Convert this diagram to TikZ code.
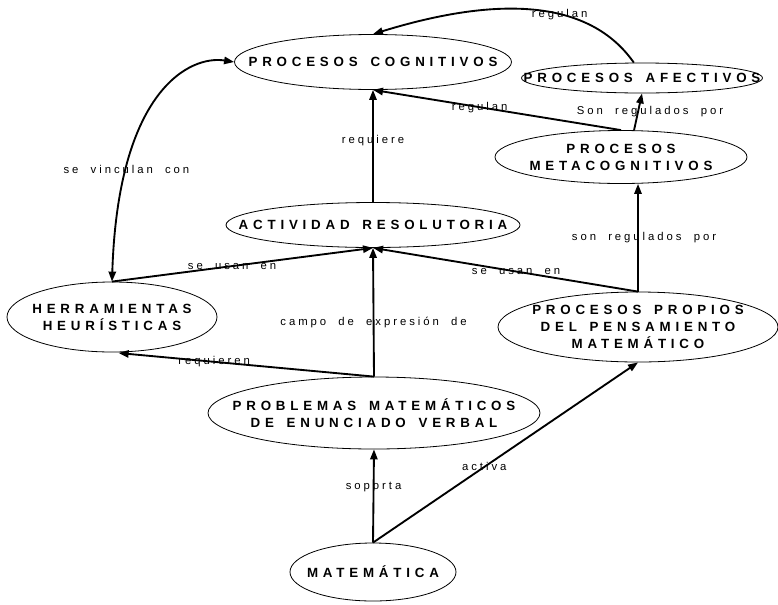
\documentclass[tikz,border=0pt]{standalone}
\usepackage{fontspec}
\setmainfont{Liberation Sans}
\newfontfamily\conceptfont[LetterSpace=36,WordSpace=1.5]{Liberation Sans}
\newfontfamily\labelfont[LetterSpace=26,WordSpace=2]{Liberation Sans}
\usetikzlibrary{shapes.geometric,arrows.meta}
\tikzset{
  concepto/.style={ellipse, draw, line width=0.6pt, inner xsep=-90pt, inner ysep=-30pt, align=center,
    font=\conceptfont\bfseries\fontsize{10}{12.75}\selectfont},
  enlace/.style={font=\labelfont\fontsize{8.5}{10}\selectfont, inner sep=0pt},
}
\begin{document}
\begin{tikzpicture}[x=0.75pt, y=-0.75pt, line width=1.4pt, >={Triangle[length=7.5pt,width=5.5pt]}]
\useasboundingbox (0,0) rectangle (778,604);
\node[concepto, minimum width=207.75pt, minimum height=41.25pt] (cog) at (373,62) {PROCESOS COGNITIVOS};
\node[concepto, minimum width=180.75pt, minimum height=22.5pt] (afe) at (642,78) {PROCESOS AFECTIVOS};
\node[concepto, minimum width=189pt, minimum height=39.75pt] (meta) at (621,157) {PROCESOS\\METACOGNITIVOS};
\node[concepto, minimum width=220.5pt, minimum height=33.75pt] (act) at (373,225) {ACTIVIDAD RESOLUTORIA};
\node[concepto, minimum width=157.5pt, minimum height=52.5pt] (herr) at (112,317) {HERRAMIENTAS\\HEURÍSTICAS};
\node[concepto, minimum width=210pt, minimum height=52.5pt] (prop) at (638,327) {PROCESOS PROPIOS\\DEL PENSAMIENTO\\MATEMÁTICO};
\node[concepto, minimum width=249pt, minimum height=54pt] (prob) at (374,413) {PROBLEMAS MATEMÁTICOS\\DE ENUNCIADO VERBAL};
\node[concepto, minimum width=124.5pt, minimum height=43.5pt] (mat) at (373,572) {MATEMÁTICA};

\draw[->] (mat.north) -- (prob.south) node[enlace, pos=0.6]{soporta};
\draw[->] (mat.north) -- (prop.south) node[enlace, pos=0.42]{activa};
\draw[->] (prob.north) -- (act.south) node[enlace, pos=0.42]{campo de expresión de};
\draw[->, shorten >=5pt] (prob.north) -- (herr.south) node[enlace, pos=0.61]{requieren};
\draw[->] (herr.north) -- (act.south) node[enlace, pos=0.46]{se usan en};
\draw[->] (prop.north) -- (act.south) node[enlace, pos=0.46]{se usan en};
\draw[->] (prop.north) -- (prop.north |- meta.south) node[enlace, midway, xshift=4.5pt]{son regulados por};
\draw[->] (meta.64) -- (afe.south) node[enlace, midway, xshift=9pt]{Son regulados por};
\draw[->] (meta.north) -- (cog.south) node[enlace, pos=0.57]{regulan};
\draw[->] (act.north) -- (cog.south) node[enlace, pos=0.55]{requiere};
\draw[->] (afe.118) .. controls (590,0) and (500,-5) .. (cog.north) node[enlace, pos=0.4]{regulan};
\draw[<->] (herr.north) .. controls (118,90) and (190,55) .. (cog.west) node[enlace, pos=0.24]{se vinculan con};
\end{tikzpicture}
\end{document}
